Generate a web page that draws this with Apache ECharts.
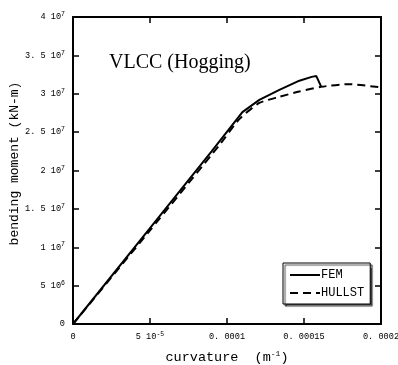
<!DOCTYPE html>
<html><head><meta charset="utf-8">
<script src="https://cdn.jsdelivr.net/npm/echarts@6/dist/echarts.min.js"></script>
<style>html,body{margin:0;padding:0;background:#fff}#c{width:398px;height:365px}</style>
</head><body><div id="c"></div>
<script>
// Data (curvature in 1/m, bending moment in kN-m)
const curvFEM = [0, 5.0e-5, 9.0e-5, 1.10e-4, 1.21e-4, 1.34e-4, 1.47e-4, 1.55e-4, 1.58e-4, 1.61e-4];
const momFEM  = [0, 1.25e7, 2.25e7, 2.76e7, 2.92e7, 3.05e7, 3.17e7, 3.22e7, 3.23e7, 3.10e7];
const curvHULL = [0, 5.0e-5, 9.5e-5, 1.08e-4, 1.21e-4, 1.34e-4, 1.47e-4, 1.61e-4, 1.79e-4, 1.99e-4];
const momHULL  = [0, 1.22e7, 2.33e7, 2.67e7, 2.88e7, 2.96e7, 3.03e7, 3.09e7, 3.125e7, 3.085e7];
const xTickLabels = [['0',''], ['5 10','-5'], ['0. 0001',''], ['0. 00015',''], ['0. 0002','']];
const yTickLabels = [['0',''], ['5 10','6'], ['1 10','7'], ['1. 5 10','7'], ['2 10','7'], ['2. 5 10','7'], ['3 10','7'], ['3. 5 10','7'], ['4 10','7']];
const seriesNames = ['FEM', 'HULLST'];
const titleText = 'VLCC (Hogging)';

const mono = 'Liberation Mono';
const pair = (xs, ys) => xs.map((x, i) => [x, ys[i]]);
const fmt = (labels, step) => v => {
  const l = labels[Math.round(v / step)];
  if (!l) return '';
  return l[1] ? '{b|' + l[0] + '}{s|' + l[1] + '}' : '{b|' + l[0] + '}';
};
const rich = {b: {fontFamily: mono, fontSize: 8.6, color: '#000', lineHeight: 12}, s: {fontFamily: mono, fontSize: 6.5, color: '#000', verticalAlign: 'top', lineHeight: 12, padding:[0,0,5,0]}};
const axLine = {show: true, onZero: false, lineStyle: {color: '#000', width: 2}};
const tick = {show: true, inside: true, length: 6, lineStyle: {color: '#000', width: 1.5}};

const chart = echarts.init(document.getElementById('c'), null, {renderer: 'canvas'});
chart.setOption({
  animation: false,
  backgroundColor: '#fff',
  grid: {left: 73, right: 17, top: 17, bottom: 41, containLabel: false, outerBoundsMode: 'none'},
  title: {text: titleText, left: 109, top: 53, padding: 0, textStyle: {fontFamily: 'Liberation Serif', fontWeight: 'normal', fontSize: 20, color: '#000'}},
  legend: {
    left: 283, top: 263, orient: 'vertical', itemWidth: 30, itemHeight: 10, itemGap: 6,
    padding: [6, 6, 5, 6], borderColor: '#000', borderWidth: 1, backgroundColor: '#fff',
    shadowColor: 'rgba(0,0,0,0.7)', shadowOffsetX: 2, shadowOffsetY: 2, shadowBlur: 1,
    itemStyle: {opacity: 0},
    textStyle: {fontFamily: mono, fontSize: 12, color: '#000', padding: [0,0,0,-4]},
    data: seriesNames
  },
  xAxis: [
    {type: 'value', position: 'bottom', min: 0, max: 2e-4, interval: 5e-5, splitLine: {show: false},
     axisLine: axLine, axisTick: tick, axisLabel: {margin: 7, formatter: fmt(xTickLabels, 5e-5), rich: rich},
     name: 'curvature  (m{s|-1})', nameLocation: 'middle', nameGap: 26, nameMoveOverlap: false,
     nameTextStyle: {fontFamily: mono, fontSize: 13.5, color: '#000', rich: {s: {fontFamily: mono, fontSize: 8, verticalAlign: 'top', padding:[0,0,6,0]}}}},
    {type: 'value', position: 'top', min: 0, max: 2e-4, interval: 5e-5, splitLine: {show: false},
     axisLine: axLine, axisTick: tick, axisLabel: {show: false}}
  ],
  yAxis: [
    {type: 'value', position: 'left', min: 0, max: 4e7, interval: 5e6, splitLine: {show: false},
     axisLine: axLine, axisTick: tick, axisLabel: {margin: 8, formatter: fmt(yTickLabels, 5e6), rich: rich},
     name: 'bending moment (kN-m)', nameLocation: 'middle', nameGap: 52, nameMoveOverlap: false,
     nameTextStyle: {fontFamily: mono, fontSize: 13, color: '#000', padding: [0, 0, 0, 14]}},
    {type: 'value', position: 'right', min: 0, max: 4e7, interval: 5e6, splitLine: {show: false},
     axisLine: axLine, axisTick: tick, axisLabel: {show: false}}
  ],
  series: [
    {name: seriesNames[0], type: 'line', data: pair(curvFEM, momFEM), symbol: 'none', showSymbol: false,
     lineStyle: {color: '#000', width: 2}, itemStyle: {color: '#000'}},
    {name: seriesNames[1], type: 'line', data: pair(curvHULL, momHULL), symbol: 'none', showSymbol: false, smooth: 0.2,
     lineStyle: {color: '#000', width: 2, type: [8, 5]}, itemStyle: {color: '#000'}}
  ]
});
</script></body></html>
